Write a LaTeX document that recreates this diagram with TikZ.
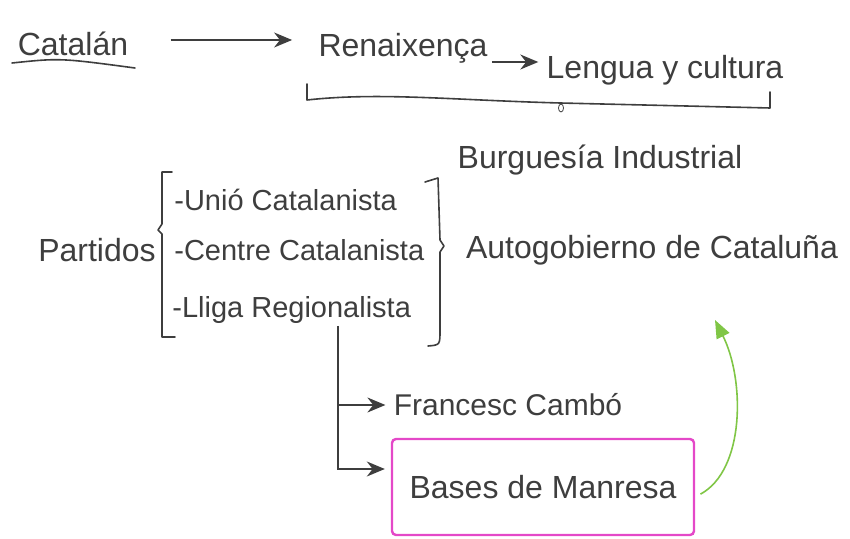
\documentclass[tikz,border=0pt]{standalone}
\usepackage{fontspec}
\setmainfont{Liberation Sans}
\usetikzlibrary{arrows.meta,positioning}
\definecolor{ink}{RGB}{62,62,62}
\definecolor{marker}{RGB}{228,72,200}
\definecolor{leaf}{RGB}{128,198,70}

\begin{document}
\begin{tikzpicture}[
  x=0.5pt, y=-0.5pt,
  >={Stealth[length=9pt,width=7.5pt]},
  every node/.style={font=\fontsize{16}{18}\selectfont, text=ink},
  note/.style={inner sep=1pt},
  party/.style={anchor=west, inner sep=1pt, font=\fontsize{14.5}{17}\selectfont},
  link/.style={->, draw=ink, thick},
  stroke/.style={draw=ink, thick, line cap=round, line join=round},
  hilite/.style={draw=marker, very thick, rounded corners=2pt, minimum width=151pt, minimum height=48pt}
]
\useasboundingbox (0,0) rectangle (850,539);
% top row
\node[note] (cat) at (73,44) {Catalán};
\node[note] (ren) at (403,48) {Renaixença};
\node[note] (len) at (665,70) {Lengua y cultura};
\node[note] (bur) at (600,160) {Burguesía Industrial};
\draw[stroke] (12,63) .. controls (60,58) .. (135,68);
\draw[link, shorten <=20pt, shorten >=12pt] ([yshift=2pt]cat.east) -- ([yshift=4pt]ren.west);
\draw[link, shorten <=1pt, shorten >=3pt] ([yshift=-7pt]ren.east) -- ([yshift=4pt]len.west);
% brace under Renaixenca
\draw[stroke] (307,84) -- (307,100) .. controls (380,92) and (450,100) .. (560,103)
  -- (770,108) -- (770,92);
\draw[ink] (561,108) ellipse (2.5 and 4);
% parties
\node[note] (par) at (97,250) {Partidos};
\node[party] (uni) at (172,200) {-Unió Catalanista};
\node[party] (cen) at (172,250) {-Centre Catalanista};
\node[party] (lli) at (170,310) {-Lliga Regionalista};
\draw[stroke] (172,172) -- (162,172) -- (162,224) -- (158,230) -- (162,234) -- (162,337) -- (175,337);
\draw[stroke] (425,182) -- (438,178) -- (440,240) -- (444,246) -- (440,252) -- (440,330)
  .. controls (440,345) .. (428,346);
\node[note] (aut) at (652,250) {Autogobierno de Cataluña};
% Lliga branches
\node[note, font=\fontsize{15}{18}\selectfont] (fra) at (508,405) {Francesc Cambó};
\node[hilite] (bas) at (543,487) {Bases de Manresa};
\coordinate (fork) at ([xshift=84pt]lli.south west);
\draw[link, shorten >=3pt] (fork) |- ([yshift=9pt]bas.west);
\draw[link, shorten >=3pt] (fork |- fra.west) -- (fra.west);
\coordinate (tip) at (715,320);
\draw[->, leaf, thick, >={Triangle[length=9pt,width=7pt]}, shorten <=3pt]
  ([yshift=-5pt]bas.east) .. controls (745,470) and (745,380) .. (tip);
\end{tikzpicture}
\end{document}
